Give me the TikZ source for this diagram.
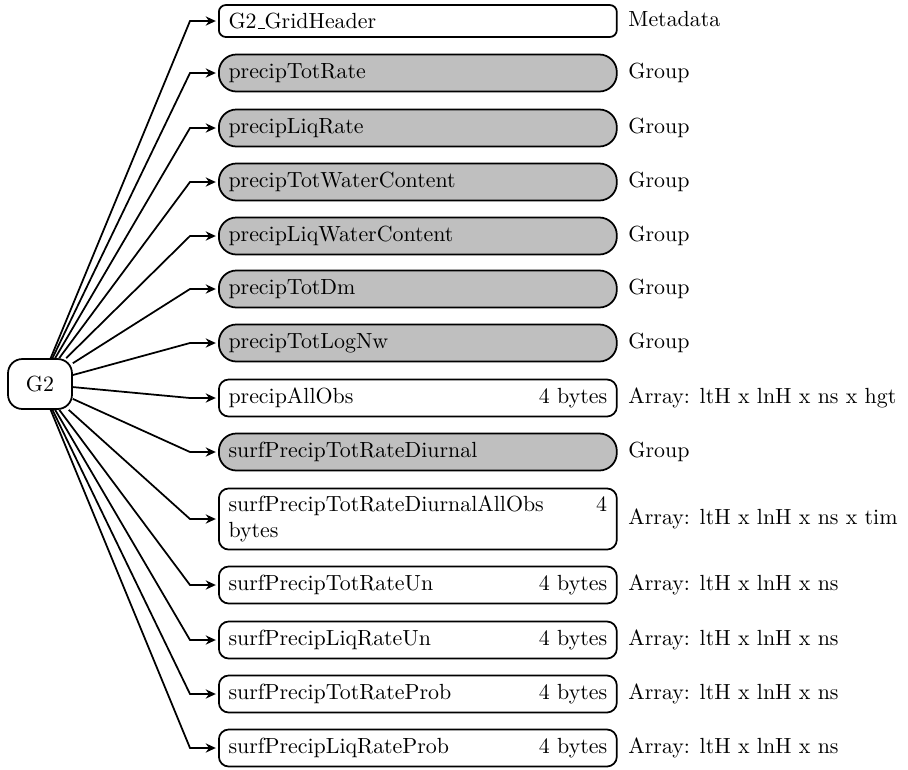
\documentclass[tikz,border=0pt]{standalone}
\usetikzlibrary{arrows.meta}
\begin{document}
\begin{tikzpicture}[x=0.4566pt,y=-0.4566pt,
  box/.style={draw, line width=0.8pt, anchor=west, text width=172.9pt, inner xsep=4.4pt, inner ysep=0pt, align=left, minimum height=16.9pt},
  meta/.style={box, rounded corners=3.2pt, minimum height=14.6pt},
  grp/.style={box, rounded corners=8pt, fill=black!25},
  dat/.style={box, rounded corners=4.5pt},
  lbl/.style={anchor=west, inner sep=0pt, text height=1.5ex, text depth=.25ex},
  conn/.style={line width=0.8pt, shorten >=1pt, -{Stealth[length=4.6pt,width=4.2pt]}}
]
\useasboundingbox (0,0) rectangle (908,769);

\node[draw, line width=0.8pt, rounded corners=6.5pt, minimum width=29.2pt, minimum height=22.8pt, inner sep=0pt] (g2) at (40,384) {G2};

\node[meta] (b1) at (218,21) {G2\kern.06em\vbox{\hrule width .3em}GridHeader};
\node[grp] (b2) at (218,73) {precipTotRate};
\node[grp] (b3) at (218,128) {precipLiqRate};
\node[grp] (b4) at (218,182) {precipTotWaterContent};
\node[grp] (b5) at (218,236) {precipLiqWaterContent};
\node[grp] (b6) at (218,289) {precipTotDm};
\node[grp] (b7) at (218,343) {precipTotLogNw};
\node[dat] (b8) at (218,398) {precipAllObs\hfill 4 bytes};
\node[grp] (b9) at (218,452) {surfPrecipTotRateDiurnal};
\node[dat, minimum height=27.9pt] (b10) at (218,519) {surfPrecipTotRateDiurnalAllObs\hfill 4\\bytes};
\node[dat] (b11) at (218,585) {surfPrecipTotRateUn\hfill 4 bytes};
\node[dat] (b12) at (218,640) {surfPrecipLiqRateUn\hfill 4 bytes};
\node[dat] (b13) at (218,694) {surfPrecipTotRateProb\hfill 4 bytes};
\node[dat] (b14) at (218,748) {surfPrecipLiqRateProb\hfill 4 bytes};

\node[lbl] (l1) at (628,21) {Metadata};
\node[lbl] (l2) at (628,73) {Group};
\node[lbl] (l3) at (628,128) {Group};
\node[lbl] (l4) at (628,182) {Group};
\node[lbl] (l5) at (628,236) {Group};
\node[lbl] (l6) at (628,289) {Group};
\node[lbl] (l7) at (628,343) {Group};
\node[lbl] (l8) at (628,398) {Array: ltH x lnH x ns x hgt};
\node[lbl] (l9) at (628,452) {Group};
\node[lbl] (l10) at (628,519) {Array: ltH x lnH x ns x tim};
\node[lbl] (l11) at (628,585) {Array: ltH x lnH x ns};
\node[lbl] (l12) at (628,640) {Array: ltH x lnH x ns};
\node[lbl] (l13) at (628,694) {Array: ltH x lnH x ns};
\node[lbl] (l14) at (628,748) {Array: ltH x lnH x ns};

\foreach \i/\y in {1/21,2/73,3/128,4/182,5/236,6/289,7/343,8/398,9/452,10/519,11/585,12/640,13/694,14/748}{
  \coordinate (k\i) at (190,\y);
  \draw[conn] (g2) -- (k\i) -- (b\i.west);
}
\end{tikzpicture}
\end{document}
